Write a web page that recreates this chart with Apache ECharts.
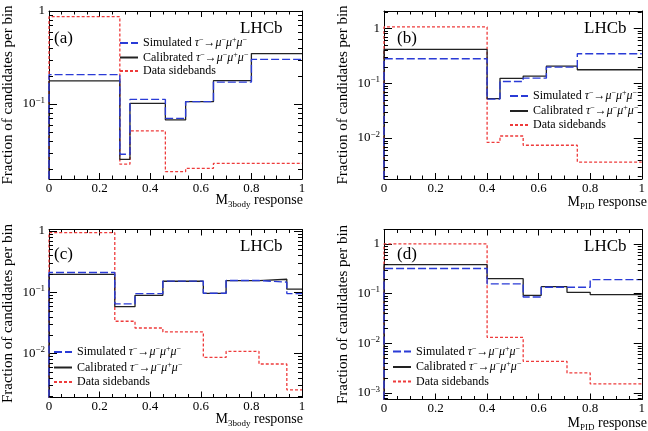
<!DOCTYPE html>
<html>
<head>
<meta charset="utf-8">
<script src="https://cdn.jsdelivr.net/npm/echarts@6/dist/echarts.min.js"></script>
<style>
html, body { margin: 0; padding: 0; background: #fff; }
#chart { width: 648px; height: 431px; }
</style>
</head>
<body>
<div id="chart"></div>
<script>
// bin edges and bin contents
const edgesA = [0, 0.28, 0.32, 0.46, 0.54, 0.65, 0.80, 1];
const simA = [0.207, 0.0288, 0.112, 0.070, 0.106, 0.172, 0.302];
const calA = [0.177, 0.0254, 0.1016, 0.0673, 0.106, 0.178, 0.348];
const sideA = [0.869, 0.0225, 0.0513, 0.0187, 0.0203, 0.0230, 0.0230];

const edgesB = [0, 0.40, 0.45, 0.54, 0.63, 0.75, 1];
const simB = [0.277, 0.0512, 0.107, 0.123, 0.195, 0.341];
const calB = [0.41, 0.052, 0.122, 0.134, 0.204, 0.175];
const sideB = [1.05, 0.00834, 0.0109, 0.0074, 0.0074, 0.00366];

const edgesC = [0, 0.26, 0.34, 0.45, 0.61, 0.70, 0.83, 0.94, 1];
const simC = [0.21, 0.0645, 0.095, 0.152, 0.096, 0.155, 0.146, 0.095];
const calC = [0.195, 0.058, 0.089, 0.151, 0.096, 0.155, 0.163, 0.112];
const sideC = [0.94, 0.0335, 0.026, 0.0224, 0.0086, 0.0108, 0.0067, 0.00254];

const edgesD = [0, 0.40, 0.54, 0.61, 0.71, 0.80, 1];
const simD = [0.319, 0.157, 0.0857, 0.134, 0.134, 0.191];
const calD = [0.384, 0.2, 0.0925, 0.138, 0.106, 0.0955];
const sideD = [1.0, 0.0132, 0.00434, 0.00434, 0.00253, 0.00152];

const legendNames = ['Simulated', 'Calibrated', 'Data sidebands'];

const FONT = 'Liberation Serif';

const panels = [
  { edges: edgesA, sim: simA, cal: calA, side: sideA, yMin: 0.0156, yMax: 1,
    grid: { left: 40, top: 11, width: 262, height: 168 },
    tag: '(a)', tagPos: [54, 30], lhcbPos: [240, 20], sub: '3body', xNamePos: [345, 191],
    legendPos: [119, 36], legendGap: 1.5 },
  { edges: edgesB, sim: simB, cal: calB, side: sideB, yMin: 0.0018, yMax: 2.05,
    grid: { left: 384, top: 11, width: 262, height: 168 },
    tag: '(b)', tagPos: [397, 30], lhcbPos: [584, 20], sub: 'PID', xNamePos: [1, 193],
    legendPos: [509, 89], legendGap: 2 },
  { edges: edgesC, sim: simC, cal: calC, side: sideC, yMin: 0.0019, yMax: 1.06,
    grid: { left: 40, top: 229.5, width: 262, height: 168 },
    tag: '(c)', tagPos: [54, 246], lhcbPos: [240, 238], sub: '3body', xNamePos: [345, 410],
    legendPos: [53, 345], legendGap: 2.5 },
  { edges: edgesD, sim: simD, cal: calD, side: sideD, yMin: 0.00074, yMax: 1.95,
    grid: { left: 384, top: 229.5, width: 262, height: 170 },
    tag: '(d)', tagPos: [397, 246], lhcbPos: [584, 238], sub: 'PID', xNamePos: [1, 414],
    legendPos: [392, 344.5], legendGap: 2.5 }
];

// histogram outline: rise from the axis floor, then one flat step per bin
function steps(edges, vals, floor) {
  const pts = [[edges[0], floor]];
  vals.forEach((v, i) => pts.push([edges[i], v]));
  pts.push([edges[edges.length - 1], vals[vals.length - 1]]);
  return pts;
}

// 2..9 x 10^k minor ticks for the log axis
function minorTicks(lo, hi) {
  const out = [];
  for (let e = Math.floor(Math.log10(lo)); e <= Math.ceil(Math.log10(hi)); e++) {
    for (let m = 2; m <= 9; m++) {
      const v = m * Math.pow(10, e);
      if (v > lo && v < hi) out.push([0.5, v]);
    }
  }
  return out;
}

function yLabel(v) {
  const lg = Math.log10(v);
  const e = Math.round(lg);
  if (Math.abs(lg - e) > 1e-6) return '';
  if (e === 0) return '{b|1}';
  return '{b|10}{s|\u2212' + (-e) + '}';
}

const legendRich = {
  t: { fontFamily: FONT, fontSize: 12, lineHeight: 14, color: '#000' },
  g: { fontFamily: FONT, fontSize: 12, lineHeight: 14, fontStyle: 'italic', color: '#000' },
  u: { fontFamily: FONT, fontSize: 8, lineHeight: 8, verticalAlign: 'top', color: '#000' }
};
const decay = '{g|\u03c4}{u|\u2212}{t|\u2192}{g|\u03bc}{u|\u2212}{g|\u03bc}{u|+}{g|\u03bc}{u|\u2212}';
function legendText(name) {
  if (name === 'Simulated') return '{t|Simulated }' + decay;
  if (name === 'Calibrated') return '{t|Calibrated }' + decay;
  return '{t|' + name + '}';
}

const grid = [], xAxis = [], yAxis = [], series = [], legend = [], title = [];

panels.forEach((p, i) => {
  grid.push(p.grid);
  const xBase = {
    type: 'value', gridIndex: i, min: 0, max: 1, interval: 0.2,
    axisLine: { show: true, onZero: false, lineStyle: { color: '#000', width: 1 } },
    axisTick: { show: true, inside: true, length: 6, lineStyle: { color: '#000', width: 1 } },
    minorTick: { show: true, splitNumber: 4, length: 3.5, lineStyle: { color: '#000', width: 1 } },
    splitLine: { show: false }, minorSplitLine: { show: false }
  };
  xAxis.push(Object.assign({}, xBase, {
    position: 'bottom',
    axisLabel: { show: true, margin: 3, fontFamily: FONT, fontSize: 13, color: '#000' }
  }));
  xAxis.push(Object.assign({}, xBase, { position: 'top', axisLabel: { show: false } }));

  const yBase = {
    type: 'log', logBase: 10, gridIndex: i, min: p.yMin, max: p.yMax,
    axisLine: { show: true, onZero: false, lineStyle: { color: '#000', width: 1 } },
    axisTick: { show: true, inside: true, length: 8, lineStyle: { color: '#000', width: 1 } },
    splitLine: { show: false }
  };
  yAxis.push(Object.assign({}, yBase, {
    position: 'left',
    name: 'Fraction of candidates per bin',
    nameLocation: 'middle', nameGap: 33, nameRotate: 90,
    nameTextStyle: { fontFamily: FONT, fontSize: 15, color: '#000' },
    axisLabel: {
      show: true, margin: 4, formatter: yLabel,
      rich: {
        b: { fontFamily: FONT, fontSize: 13, lineHeight: 16, color: '#000' },
        s: { fontFamily: FONT, fontSize: 9, lineHeight: 9, verticalAlign: 'top', color: '#000' }
      }
    }
  }));
  yAxis.push(Object.assign({}, yBase, { position: 'right', axisLabel: { show: false } }));

  const xi = 2 * i, yi = 2 * i;
  series.push({
    name: 'Data sidebands', type: 'line', step: 'end', xAxisIndex: xi, yAxisIndex: yi,
    symbol: 'none', animation: false,
    lineStyle: { color: '#ee3b3b', width: 1.3, type: [3, 2] },
    itemStyle: { color: '#ee3b3b' },
    data: steps(p.edges, p.side, p.yMin)
  });
  series.push({
    name: 'Calibrated', type: 'line', step: 'end', xAxisIndex: xi, yAxisIndex: yi,
    symbol: 'none', animation: false,
    lineStyle: { color: '#222', width: 1.3, type: 'solid' },
    itemStyle: { color: '#222' },
    data: steps(p.edges, p.cal, p.yMin)
  });
  series.push({
    name: 'Simulated', type: 'line', step: 'end', xAxisIndex: xi, yAxisIndex: yi,
    symbol: 'none', animation: false,
    lineStyle: { color: '#2a3bd6', width: 1.4, type: [8, 3] },
    itemStyle: { color: '#2a3bd6' },
    data: steps(p.edges, p.sim, p.yMin)
  });
  // minor ticks of the log axes, left and right side of the frame
  series.push({
    type: 'custom', xAxisIndex: xi, yAxisIndex: yi, silent: true, animation: false, z: 10,
    data: minorTicks(p.yMin, p.yMax),
    renderItem: (params, api) => {
      const v = api.value(1);
      const a = api.coord([0, v]);
      const b = api.coord([1, v]);
      const y = Math.round(a[1]) + 0.5;
      return {
        type: 'group',
        children: [
          { type: 'line', shape: { x1: a[0], y1: y, x2: a[0] + 4, y2: y }, style: { stroke: '#000', lineWidth: 1, fill: null } },
          { type: 'line', shape: { x1: b[0], y1: y, x2: b[0] - 4, y2: y }, style: { stroke: '#000', lineWidth: 1, fill: null } }
        ]
      };
    }
  });

  legend.push({
    orient: 'vertical', left: p.legendPos[0], top: p.legendPos[1], padding: 0,
    itemWidth: 18, itemHeight: 8, itemGap: p.legendGap, selectedMode: false,
    itemStyle: { opacity: 0 },
    data: legendNames, formatter: legendText,
    textStyle: { fontFamily: FONT, fontSize: 12, color: '#000', rich: legendRich }
  });

  title.push({
    text: 'LHCb', left: p.lhcbPos[0], top: p.lhcbPos[1], padding: 0,
    textStyle: { fontFamily: FONT, fontSize: 17, fontWeight: 'normal', color: '#000' }
  });
  title.push({
    text: p.tag, left: p.tagPos[0], top: p.tagPos[1], padding: 0,
    textStyle: { fontFamily: FONT, fontSize: 17, fontWeight: 'normal', color: '#000' }
  });
  title.push({
    text: '{m|M}{s|' + p.sub + '}{m| response}', right: p.xNamePos[0], top: p.xNamePos[1], padding: 0,
    textStyle: {
      fontWeight: 'normal', fontFamily: FONT,
      rich: {
        m: { fontFamily: FONT, fontSize: 14, lineHeight: 18, fontWeight: 'normal', color: '#000' },
        s: { fontFamily: FONT, fontSize: 9, lineHeight: 9, verticalAlign: 'bottom', fontWeight: 'normal', color: '#000' }
      }
    }
  });
});

const chart = echarts.init(document.getElementById('chart'), null, { renderer: 'canvas' });
chart.setOption({
  backgroundColor: '#fff',
  animation: false,
  title, legend, grid, xAxis, yAxis, series
});
</script>
</body>
</html>
